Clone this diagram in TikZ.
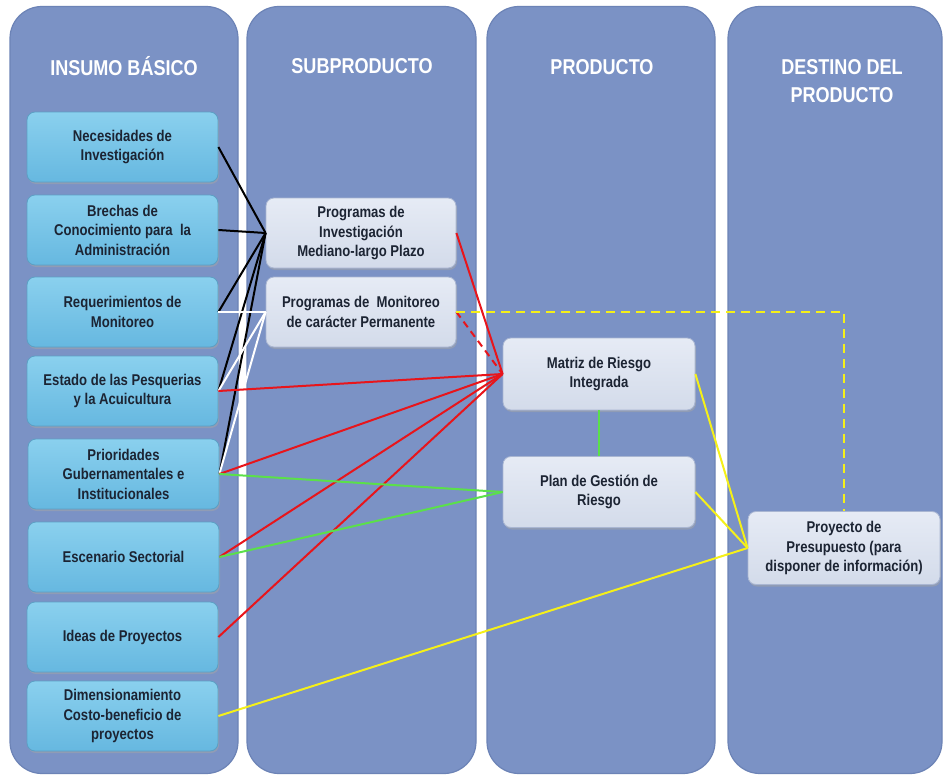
\documentclass[tikz,border=0pt]{standalone}
\usepackage{fontspec}
\setmainfont{Liberation Sans}[FakeStretch=0.84]
\usetikzlibrary{shadows}
\definecolor{colfill}{HTML}{7B92C5}
\definecolor{coledge}{HTML}{6C83B6}
\definecolor{inTop}{HTML}{8AD0EE}
\definecolor{inBot}{HTML}{66B8E0}
\definecolor{inEdge}{HTML}{5C9FC4}
\definecolor{subTop}{HTML}{E6EBF5}
\definecolor{subBot}{HTML}{D3DBEA}
\definecolor{subEdge}{HTML}{A9B6D2}
\definecolor{txt}{HTML}{1C2433}
\definecolor{lred}{HTML}{E8151B}
\definecolor{lgreen}{HTML}{5BE04A}
\definecolor{lyellow}{HTML}{F5F019}
\tikzset{
  colbox/.style={draw=coledge, line width=1.2pt, fill=colfill, rounded corners=32pt, inner sep=0pt},
  coltitle/.style={text=white, font=\bfseries\fontsize{21.5}{28}\selectfont, align=center},
  inbox/.style={draw=inEdge, line width=0.8pt, top color=inTop, bottom color=inBot, rounded corners=8pt,
     minimum width=191pt, minimum height=70pt, inner sep=2pt, align=center, text=txt,
     font=\bfseries\fontsize{15.6}{19.5}\selectfont,
     drop shadow={shadow xshift=1pt, shadow yshift=-2pt, fill=black!35, opacity=0.5}},
  subbox/.style={draw=subEdge, line width=0.8pt, top color=subTop, bottom color=subBot, rounded corners=8pt,
     minimum width=190pt, minimum height=70pt, inner sep=2pt, align=center, text=txt,
     font=\bfseries\fontsize{15.6}{19.5}\selectfont,
     drop shadow={shadow xshift=1pt, shadow yshift=-2pt, fill=black!35, opacity=0.5}},
  blk/.style={draw=black, line width=2pt},
  wht/.style={draw=white, line width=2pt},
  redl/.style={draw=lred, line width=2pt},
  grnl/.style={draw=lgreen, line width=2pt},
  yell/.style={draw=lyellow, line width=2pt}
}
\begin{document}
\begin{tikzpicture}[x=1pt,y=-1pt]
\useasboundingbox[fill=white] (0,0) rectangle (943,776);
% columns
\node[colbox, minimum width=228pt, minimum height=767pt] (c1) at (124,390) {};
\node[colbox, minimum width=229pt, minimum height=767pt] (c2) at (361.5,390) {};
\node[colbox, minimum width=228pt, minimum height=767pt] (c3) at (601,390) {};
\node[colbox, minimum width=214pt, minimum height=767pt] (c4) at (835,390) {};
\node[coltitle] (t1) at (124,66) {INSUMO BÁSICO};
\node[coltitle] (t2) at (362,66) {SUBPRODUCTO};
\node[coltitle] (t3) at (602,67) {PRODUCTO};
\node[coltitle] (t4) at (842,81) {DESTINO DEL\\PRODUCTO};
% boxes
\node[inbox] (L1) at (122.5,147) {Necesidades de\\Investigación};
\node[inbox] (L2) at (122.5,230) {Brechas de\\Conocimiento para~ la\\Administración};
\node[inbox] (L3) at (122.5,312) {Requerimientos de\\Monitoreo};
\node[inbox] (L4) at (122.5,391) {Estado de las Pesquerias\\y la Acuicultura};
\node[inbox] (L5) at (123.5,474) {Prioridades\\Gubernamentales e\\Institucionales};
\node[inbox] (L6) at (123.5,557) {Escenario Sectorial};
\node[inbox] (L7) at (122.5,637) {Ideas de Proyectos};
\node[inbox] (L8) at (122.5,716) {Dimensionamiento\\Costo-beneficio de\\proyectos};
\node[subbox] (S1) at (361,233) {Programas de\\Investigación\\Mediano-largo Plazo};
\node[subbox] (S2) at (361,312) {Programas de~ Monitoreo\\de carácter Permanente};
\node[subbox, minimum width=192pt, minimum height=72pt] (M) at (599,374) {Matriz de Riesgo\\Integrada};
\node[subbox, minimum width=192pt, minimum height=71pt] (P) at (599,492) {Plan de Gestión de\\Riesgo};
\node[subbox, minimum width=192pt, minimum height=73pt] (D) at (844,548) {Proyecto de\\Presupuesto (para\\disponer de información)};
% connectors
\foreach \s in {L1,L2,L3,L4,L5} \draw[blk] (\s.east) -- (S1.west);
\foreach \s in {L3,L4,L5} \draw[wht] (\s.east) -- (S2.west);
\foreach \s in {L4,L5,L6,L7} \draw[redl] (\s.east) -- (M.west);
\draw[redl] (S1.east) -- (M.west);
\draw[redl, dash pattern=on 7pt off 5pt] (S2.east) -- (M.west);
\draw[grnl] (L5.east) -- (P.west);
\draw[grnl] (L6.east) -- (P.west);
\draw[grnl] (M.south) -- (P.north);
\draw[yell] (M.east) -- (D.west);
\draw[yell] (P.east) -- (D.west);
\draw[yell] (L8.east) -- (D.west);
\draw[yell, dash pattern=on 9pt off 6pt] (S2.east) -| (D.north);
\end{tikzpicture}
\end{document}
